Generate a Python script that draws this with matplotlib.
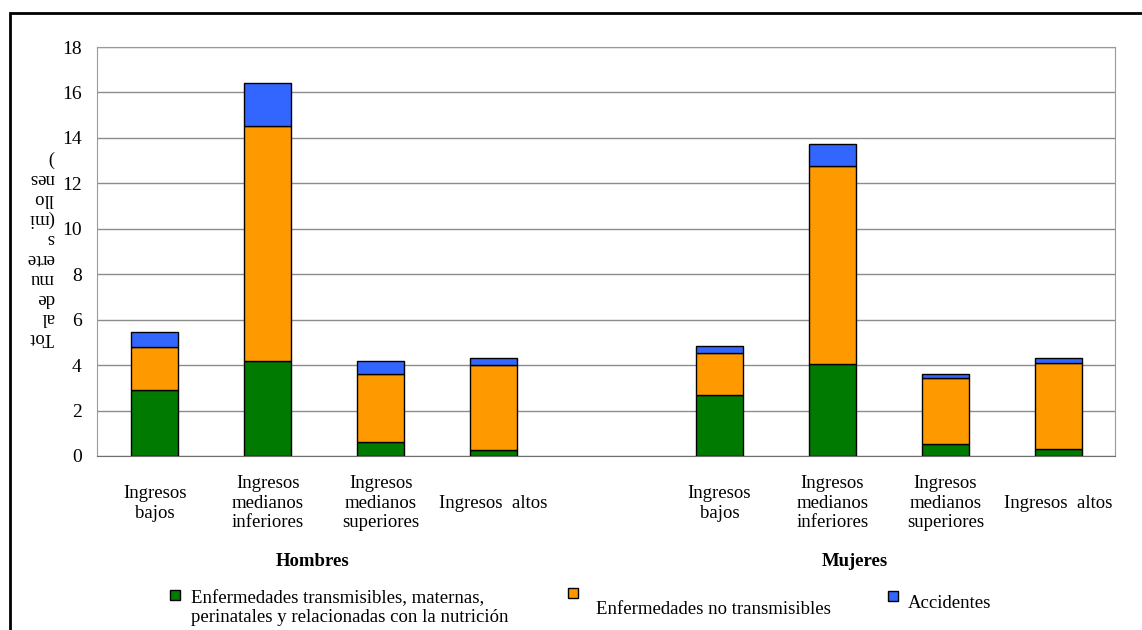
import matplotlib.pyplot as plt
from matplotlib.patches import Rectangle

plt.rcParams['font.family'] = ['Liberation Serif', 'DejaVu Serif']

# data (millions of deaths)
categories = ["Ingresos\nbajos", "Ingresos\nmedianos\ninferiores",
              "Ingresos\nmedianos\nsuperiores", "Ingresos  altos"]
groups = ["Hombres", "Mujeres"]
transmisibles = [2.90, 4.18, 0.63, 0.26, 2.68, 4.06, 0.53, 0.32]
no_transmisibles = [1.91, 10.34, 2.96, 3.73, 1.85, 8.72, 2.89, 3.79]
accidentes = [0.64, 1.90, 0.59, 0.34, 0.33, 0.95, 0.17, 0.22]
series_names = ["Enfermedades transmisibles, maternas,\nperinatales y relacionadas con la nutrición",
                "Enfermedades no transmisibles", "Accidentes"]
colors = ["#007A00", "#FF9900", "#3366FF"]

x = [0, 1, 2, 3, 5, 6, 7, 8]
labels = categories + categories

fig = plt.figure(figsize=(11.42, 6.30), dpi=100)
ax = fig.add_axes([97 / 1142, 1 - 456 / 630, (1115 - 97) / 1142, (456 - 47) / 630])

bottom2 = [a + b for a, b in zip(transmisibles, no_transmisibles)]
kw = dict(width=0.41, edgecolor="black", linewidth=1.0, zorder=3)
ax.bar(x, transmisibles, color=colors[0], **kw)
ax.bar(x, no_transmisibles, bottom=transmisibles, color=colors[1], **kw)
ax.bar(x, accidentes, bottom=bottom2, color=colors[2], **kw)

ax.set_xlim(-0.51, 8.5)
ax.set_ylim(0, 18)
ax.set_yticks(range(0, 19, 2))
ax.yaxis.grid(True, color="#8c8c8c", linewidth=1.0, zorder=0)
ax.set_axisbelow(True)
for side in ["left", "right", "top"]:
    ax.spines[side].set_color("#9a9a9a")
ax.spines["bottom"].set_color("#6e6e6e")
ax.tick_params(axis="y", length=0, pad=11, labelsize=14)
ax.set_xticks(x)
ax.set_xticklabels(labels, fontsize=13.5)
ax.tick_params(axis="x", length=0, pad=34)
for t in ax.get_xticklabels():
    t.set_va("center")
    t.set_linespacing(1.2)

# y label, upside down and broken into pieces
fig.text(40 / 1142, 1 - 248 / 630, "Tot\nal\nde\nmu\nerte\ns\n(mi\nllo\nnes\n)",
         rotation=180, ha="center", va="center", multialignment="left",
         fontsize=13.5, linespacing=1.22)

fig.text(313 / 1142, 1 - 561 / 630, groups[0], ha="center", va="center",
         fontsize=13.5, fontweight="bold")
fig.text(855 / 1142, 1 - 561 / 630, groups[1], ha="center", va="center",
         fontsize=13.5, fontweight="bold")

# legend drawn by hand
leg = [(170, 590, 191, 608), (568, 588, 596, 609), (888, 591, 908, 603)]
for (sx, sy, tx, ty), name, c in zip(leg, series_names, colors):
    fig.patches.append(Rectangle((sx / 1142, 1 - (sy + 10) / 630), 10 / 1142, 10 / 630,
                                 transform=fig.transFigure, facecolor=c,
                                 edgecolor="black", linewidth=1.0))
    fig.text(tx / 1142, 1 - ty / 630, name, ha="left", va="center",
             fontsize=13.5, linespacing=1.2)

# outer frame
fig.patches.append(Rectangle((10 / 1142, -0.05), 1.1, 1 - 13 / 630 + 0.05,
                             transform=fig.transFigure, fill=False,
                             edgecolor="black", linewidth=2.0))

fig.savefig("out.png", dpi=100)
